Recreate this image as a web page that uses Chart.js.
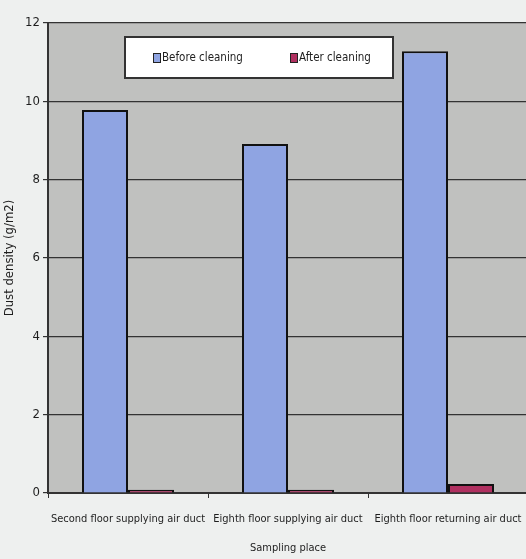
<!DOCTYPE html>
<html>
<head>
<meta charset="utf-8">
<script src="https://cdn.jsdelivr.net/npm/chart.js@4.4.1/dist/chart.umd.min.js"></script>
<style>
  html, body { margin: 0; padding: 0; background: #eef0ef; overflow: hidden; }
  #wrap { width: 528px; height: 559px; position: relative; }
</style>
</head>
<body>
<div id="wrap"><canvas id="mycanvas"></canvas></div>
<script>
var places = ['Second floor supplying air duct', 'Eighth floor supplying air duct', 'Eighth floor returning air duct'];
var beforeCleaning = [9.78, 8.91, 11.28];
var afterCleaning = [0.08, 0.08, 0.23];
var yTicks = [0, 2, 4, 6, 8, 10, 12];

var fontName = '"DejaVu Sans Condensed", "Liberation Sans Narrow", "Arial Narrow", sans-serif';

// grey plot area + boxed legend inside it
var plotBg = {
	id: 'plotBg',
	beforeDraw: function(chart) {
		var a = chart.chartArea, c = chart.ctx;
		c.save();
		c.fillStyle = '#c0c1bf';
		c.fillRect(a.left, a.top, a.right - a.left, a.bottom - a.top);
		c.restore();
	},
	afterDraw: function(chart) {
		var a = chart.chartArea, c = chart.ctx;
		var x = a.left + 77, y = a.top + 14, w = 268, h = 41;
		c.save();
		c.fillStyle = '#ffffff';
		c.fillRect(x, y, w, h);
		c.strokeStyle = '#333333';
		c.lineWidth = 2;
		c.strokeRect(x, y, w, h);
		c.font = '11.5px ' + fontName;
		c.textBaseline = 'middle';
		var items = [[x + 28, 0], [x + 165, 1]];
		items.forEach(function(it) {
			var ds = chart.data.datasets[it[1]];
			c.fillStyle = ds.backgroundColor;
			c.fillRect(it[0], y + 16, 7, 9);
			c.strokeStyle = '#222';
			c.lineWidth = 1;
			c.strokeRect(it[0] + 0.5, y + 16.5, 7, 9);
			c.fillStyle = '#1e1e1e';
			c.fillText(ds.label, it[0] + 9, y + 21);
		});
		c.restore();
	}
};

new Chart(document.getElementById('mycanvas'), {
	type: 'bar',
	data: {
		labels: places,
		datasets: [
			{
				label: 'Before cleaning',
				data: beforeCleaning,
				backgroundColor: '#8fa4e2',
				borderColor: '#111111',
				borderWidth: 2
			},
			{
				label: 'After cleaning',
				data: afterCleaning,
				backgroundColor: '#b03060',
				borderColor: '#111111',
				borderWidth: 2
			}
		]
	},
	options: {
		responsive: true,
		maintainAspectRatio: false,
		animation: false,
		layout: { padding: { top: 23, right: 0, left: 0, bottom: 0 } },
		categoryPercentage: 0.575,
		barPercentage: 1.0,
		plugins: {
			legend: { display: false },
			tooltip: { enabled: false }
		},
		scales: {
			x: {
				grid: { offset: true, drawOnChartArea: false, drawTicks: true, tickLength: 5, color: '#333', lineWidth: 1 },
				border: { color: '#333', width: 2 },
				ticks: { color: '#1e1e1e', font: { family: fontName, size: 11 }, padding: 15, maxRotation: 0, autoSkip: false },
				title: { display: true, text: 'Sampling place', color: '#1e1e1e', font: { family: fontName, size: 11 }, padding: { top: 8 } },
				afterFit: function(s) { s.height = 66; s.paddingLeft = 0; s.paddingRight = 0; }
			},
			y: {
				min: 0,
				max: 12,
				afterBuildTicks: function(s) { s.ticks = yTicks.map(function(v) { return { value: v }; }); },
				grid: { color: '#333', lineWidth: 1.2, tickLength: 5 },
				border: { color: '#333', width: 2 },
				ticks: { color: '#1e1e1e', font: { family: fontName, size: 13 }, padding: 3 },
				title: { display: true, text: 'Dust density (g/m2)', color: '#1e1e1e', font: { family: fontName, size: 13 }, padding: 2 },
				afterFit: function(s) { s.width = 48; s.paddingTop = 0; s.paddingBottom = 0; }
			}
		}
	},
	plugins: [plotBg]
});
</script>
</body>
</html>
